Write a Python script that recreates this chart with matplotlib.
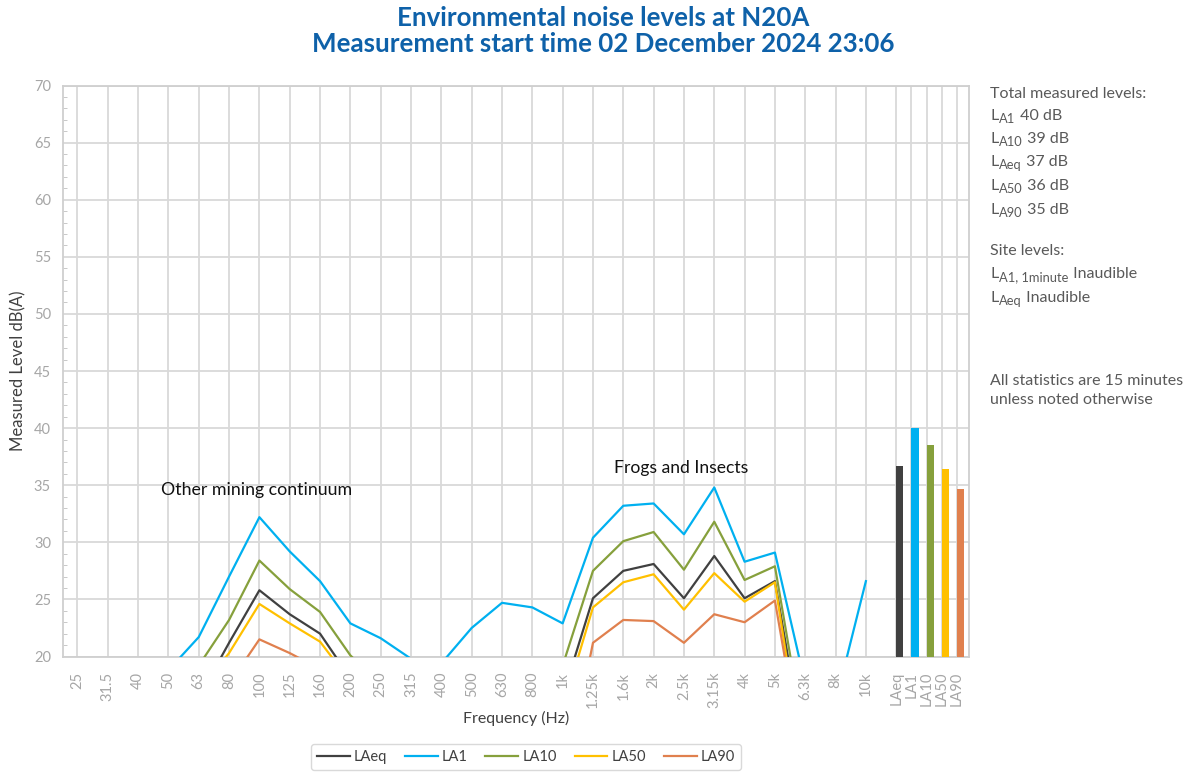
import numpy as np
import matplotlib
matplotlib.use('Agg')
import matplotlib.pyplot as plt
from matplotlib.ticker import MultipleLocator

nan = np.nan

freq_labels = ['25', '31.5', '40', '50', '63', '80', '100', '125', '160', '200',
               '250', '315', '400', '500', '630', '800', '1k', '1.25k', '1.6k',
               '2k', '2.5k', '3.15k', '4k', '5k', '6.3k', '8k', '10k']

laeq = [nan, nan, nan, nan, 16.4, 21.2, 25.8, 23.7, 22.0, 18.1, nan, nan, nan, nan,
        nan, nan, 16.5, 25.1, 27.5, 28.1, 25.1, 28.8, 25.1, 26.6, 11.2, nan, nan]
la1 = [nan, nan, nan, 18.8, 21.7, 27.0, 32.2, 29.2, 26.6, 22.9, 21.6, 19.8, 19.4, 22.5,
       24.7, 24.3, 22.9, 30.4, 33.2, 33.4, 30.7, 34.8, 28.3, 29.1, 17.6, 16.0, 26.6]
la10 = [nan, nan, nan, nan, 19.2, 23.2, 28.4, 25.9, 23.9, 20.1, 17.5, nan, nan, nan,
        nan, nan, 19.2, 27.5, 30.1, 30.9, 27.6, 31.8, 26.7, 27.9, 12.4, nan, nan]
la50 = [nan, nan, nan, nan, 17.0, 20.3, 24.6, 22.9, 21.3, 17.8, nan, nan, nan, nan,
        nan, nan, 15.4, 24.3, 26.5, 27.2, 24.1, 27.3, 24.8, 26.5, 9.2, nan, nan]
la90 = [nan, nan, nan, nan, nan, 17.6, 21.5, 20.3, 18.9, nan, nan, nan, nan, nan,
        nan, nan, 8.0, 21.2, 23.2, 23.1, 21.2, 23.7, 23.0, 24.9, 9.6, nan, nan]

stat_labels = ['LAeq', 'LA1', 'LA10', 'LA50', 'LA90']
stat_totals = [36.7, 40.0, 38.5, 36.4, 34.7]

colors = {'LAeq': '#404040', 'LA1': '#00b0f0', 'LA10': '#86a03c',
          'LA50': '#ffc000', 'LA90': '#e0804e'}

title_text = 'Environmental noise levels at N20A\nMeasurement start time 02 December 2024 23:06'
# (main, subscript, rest, y pixel)
side_lines = [
    ('Total measured levels:', '', '', 93),
    ('L', 'A1', ' 40 dB', 115),
    ('L', 'A10', ' 39 dB', 138),
    ('L', 'Aeq', ' 37 dB', 161),
    ('L', 'A50', ' 36 dB', 185),
    ('L', 'A90', ' 35 dB', 209),
    ('Site levels:', '', '', 250),
    ('L', 'A1, 1minute', ' Inaudible', 273),
    ('L', 'Aeq', ' Inaudible', 297),
    ('All statistics are 15 minutes', '', '', 380),
    ('unless noted otherwise', '', '', 399),
]

plt.rcParams['font.family'] = ['Lato', 'DejaVu Sans']

W, H = 1194, 772
fig = plt.figure(figsize=(W / 100, H / 100), dpi=100)
L, R, T, B = 63.5, 969.3, 85.5, 656.5
ax = fig.add_axes([L / W, 1 - B / H, (R - L) / W, (B - T) / H])

x = np.arange(len(freq_labels))
series = [('LAeq', laeq), ('LA1', la1), ('LA10', la10), ('LA50', la50), ('LA90', la90)]
for name, vals in series:
    ax.plot(x, vals, color=colors[name], lw=1.6, label=name, zorder=3)

bx = len(freq_labels) + np.arange(len(stat_labels)) * 0.5
ax.bar(bx, stat_totals, width=0.24, align='edge',
       color=[colors[s] for s in stat_labels], zorder=3)

ax.set_xlim(-0.46, 29.41)
ax.set_ylim(20, 70)
ax.set_xticks(list(x) + list(bx))
ax.set_xticklabels(freq_labels + stat_labels, rotation=90, va='top', ha='center',
                   color='#a6a6a6', fontsize=10.5)
ax.tick_params(axis='x', length=0, pad=11)
ax.yaxis.set_major_locator(MultipleLocator(5))
ax.yaxis.set_minor_locator(MultipleLocator(1))
ax.tick_params(axis='y', which='major', length=0, pad=9, labelcolor='#a6a6a6', labelsize=10.5)
ax.tick_params(axis='y', which='minor', direction='in', length=3, color='#bfbfbf')

ax.grid(True, color='#d9d9d9', lw=1.3)
ax.set_axisbelow(True)
for s in ax.spines.values():
    s.set_color('#cfcfcf')
    s.set_linewidth(1.3)

ax.set_ylabel('Measured Level dB(A)', color='#404040', fontsize=12)
ax.yaxis.set_label_coords((26 - L) / (R - L), 0.5)

ax.text(5.92, 34.6, 'Other mining continuum', ha='center', va='center',
        fontsize=12.8, color='#111111')
ax.text(19.9, 36.5, 'Frogs and Insects', ha='center', va='center',
        fontsize=12.6, color='#111111')

fig.text(516 / W, 1 - 718 / H, 'Frequency (Hz)', ha='center', va='center',
         color='#404040', fontsize=11.5)

fig.text(603 / W, 1 - 6 / H, title_text, ha='center', va='top', color='#0e61a9',
         fontsize=18.6, fontweight='bold', linespacing=1.12)

renderer = fig.canvas.get_renderer()
side_color = '#595959'
for main, sub, rest, yy in side_lines:
    t = fig.text(990 / W, 1 - (yy + 5) / H, main, ha='left', va='baseline',
                 color=side_color, fontsize=11.5)
    if sub:
        ext = t.get_window_extent(renderer)
        t2 = fig.text(ext.x1 / W + 1 / W, 1 - (yy + 8) / H, sub, ha='left', va='baseline',
                      color=side_color, fontsize=9.3)
        ext2 = t2.get_window_extent(renderer)
        fig.text(ext2.x1 / W, 1 - (yy + 5) / H, rest, ha='left', va='baseline',
                 color=side_color, fontsize=11.5)

leg = fig.legend(loc='lower center', bbox_to_anchor=(526 / W, -5 / H), ncol=5,
                 frameon=True, fontsize=10.5, handlelength=2.25, columnspacing=1.2,
                 handletextpad=0.3, borderpad=0.4, fancybox=True)
leg.get_frame().set_edgecolor('#d0d0d0')
leg.get_frame().set_linewidth(1.0)
for t in leg.get_texts():
    t.set_color('#404040')

fig.savefig('out.png', dpi=100)
